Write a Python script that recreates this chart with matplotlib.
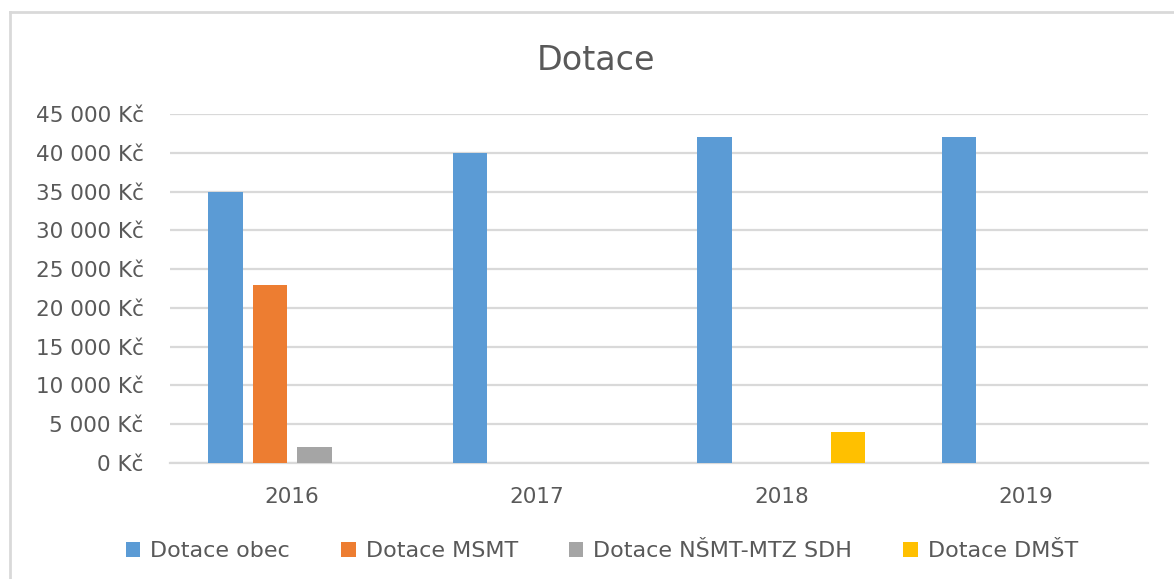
#!/usr/bin/env python3

import matplotlib
matplotlib.use("Agg")
import matplotlib.pyplot as plt
from matplotlib.lines import Line2D
from matplotlib.ticker import FuncFormatter
import numpy as np


years = ["2016", "2017", "2018", "2019"]
series_names = ["Dotace obec", "Dotace MSMT", "Dotace NŠMT-MTZ SDH", "Dotace DMŠT"]
obec = [35000, 40000, 42000, 42000]
msmt = [23000, 0, 0, 0]
nsmt = [2000, 0, 0, 0]
dmst = [0, 0, 4000, 0]
colors = ["#5B9BD5", "#ED7D31", "#A5A5A5", "#FFC000"]

TEXT = "#595959"
GRID = "#D9D9D9"


def kc(v, pos):
	return f"{int(v):,} Kč".replace(",", " ")


def main():
	plt.rcParams['font.family'] = ['DejaVu Sans']

	fig = plt.figure(figsize=(11.74, 5.79), dpi=100)
	ax = fig.add_axes([170/1174, (579-463)/579, 978/1174, 349/579])

	x = np.arange(len(years))
	slot = 0.182
	width = 0.143
	for i, (name, vals) in enumerate(zip(series_names, [obec, msmt, nsmt, dmst])):
		ax.bar(x + (i - 1.5) * slot, vals, width, color=colors[i], label=name, zorder=3)

	ax.set_xlim(-0.5, 3.5)
	ax.set_ylim(0, 45000)
	ax.set_yticks(np.arange(0, 45001, 5000))
	ax.yaxis.set_major_formatter(FuncFormatter(kc))
	ax.set_xticks(x)
	ax.set_xticklabels(years)

	ax.grid(axis='y', color=GRID, linewidth=1.6, zorder=0)
	for s in ['top', 'right', 'left']:
		ax.spines[s].set_visible(False)
	ax.spines['bottom'].set_color(GRID)
	ax.spines['bottom'].set_linewidth(1.6)
	ax.tick_params(axis='both', length=0, labelsize=15.5, colors=TEXT)
	ax.tick_params(axis='y', pad=19)
	ax.tick_params(axis='x', pad=17)

	fig.text(596/1174, 1 - 61/579, "Dotace", ha='center', va='center',
		fontsize=24, color=TEXT)

	fig.legend(loc='center', bbox_to_anchor=(602/1174, 28/579), ncol=4,
		frameon=False, fontsize=16, labelcolor=TEXT,
		handlelength=0.65, handleheight=0.65, handletextpad=0.45, columnspacing=2.3)

	# chart area border (left and top visible)
	fig.add_artist(Line2D([10/1174, 10/1174], [0, 1 - 12/579], color=GRID, linewidth=2))
	fig.add_artist(Line2D([10/1174, 1], [1 - 12/579, 1 - 12/579], color=GRID, linewidth=2))

	fig.savefig("out.png", dpi=100)


if __name__ == '__main__':
	main()
